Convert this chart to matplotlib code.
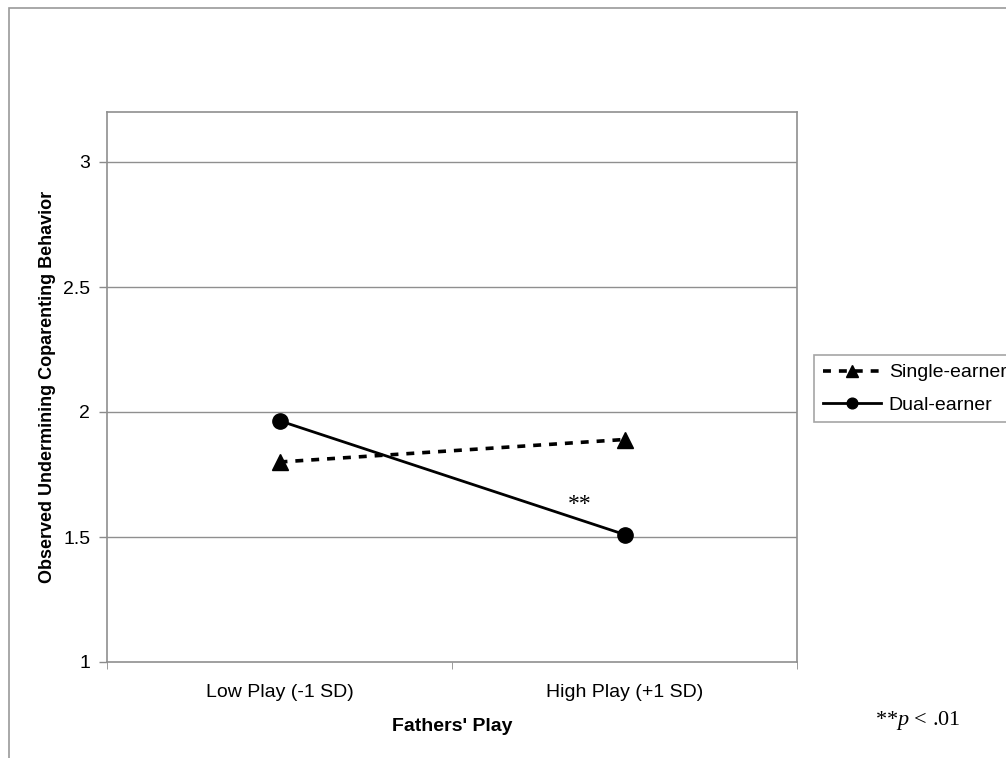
import numpy as np
import matplotlib.pyplot as plt
from matplotlib.patches import Rectangle

# Simple slopes: fathers' play by earner status
play_levels = ['Low Play (-1 SD)', 'High Play (+1 SD)']
single_earner = [1.80, 1.89]
dual_earner = [1.965, 1.51]
y_ticks = [1, 1.5, 2, 2.5, 3]
y_tick_labels = ['1', '1.5', '2', '2.5', '3']

plt.rcParams['font.family'] = ['Liberation Sans', 'DejaVu Sans']
plt.rcParams['mathtext.fontset'] = 'custom'
plt.rcParams['mathtext.it'] = 'Liberation Serif:italic'
plt.rcParams['mathtext.rm'] = 'Liberation Serif'

fig = plt.figure(figsize=(10.06, 7.58), dpi=100)
W, H = 1006, 758

# outer chart frame (runs off the right and bottom edges)
fig.patches.append(Rectangle((9 / W, -0.2), 1.2, 1.2 - 8 / H, transform=fig.transFigure,
                             fill=False, edgecolor='#9a9a9a', lw=1.2))

ax = fig.add_axes([107 / W, 1 - 662 / H, 690 / W, 550 / H])
x = np.arange(len(play_levels))

ax.plot(x, single_earner, color='black', ls=(0, (2.2, 2.2)), lw=2.6,
        marker='^', ms=12, label='Single-earner')
ax.plot(x, dual_earner, color='black', ls='-', lw=2,
        marker='o', ms=11, label='Dual-earner')

ax.set_xlim(-0.5, 1.5)
ax.set_ylim(1, 3.2)
ax.set_yticks(y_ticks)
ax.set_yticklabels(y_tick_labels, fontsize=14)
ax.set_xticks(x)
ax.set_xticklabels(play_levels, fontsize=14)
ax.tick_params(axis='x', length=0, pad=16)
ax.set_xticks([-0.5, 0.5, 1.5], minor=True)
ax.tick_params(axis='x', which='minor', length=5, color='#8a8a8a', direction='out')
ax.tick_params(axis='y', length=6, color='#8a8a8a', width=1, pad=6)

for v in y_ticks[1:]:
    ax.axhline(v, color='#8f8f8f', lw=1, zorder=0)
for s in ax.spines.values():
    s.set_color('#8f8f8f')
    s.set_linewidth(1.2)

ax.set_xlabel("Fathers' Play", fontsize=14, fontweight='bold', labelpad=12)
ax.set_ylabel('Observed Undermining Coparenting Behavior', fontsize=13,
              fontweight='bold', labelpad=5)

ax.text(0.87, dual_earner[1] + 0.12, '**', fontsize=17, ha='center', va='center',
        family='Liberation Serif')
fig.text(875 / W, 1 - 720 / H, r'**$\it{p}$ < .01', fontsize=16,
         family='Liberation Serif', ha='left', va='center')

leg = fig.legend(loc='upper left', bbox_to_anchor=(814 / W, 1 - 355 / H),
                 fontsize=14, frameon=True, fancybox=False, borderpad=0.45,
                 handlelength=3.0, handletextpad=0.4, labelspacing=0.75,
                 borderaxespad=0, markerscale=0.7)
leg.get_frame().set_edgecolor('#8f8f8f')
leg.get_frame().set_linewidth(1.2)

fig.savefig('out.png', dpi=100)
